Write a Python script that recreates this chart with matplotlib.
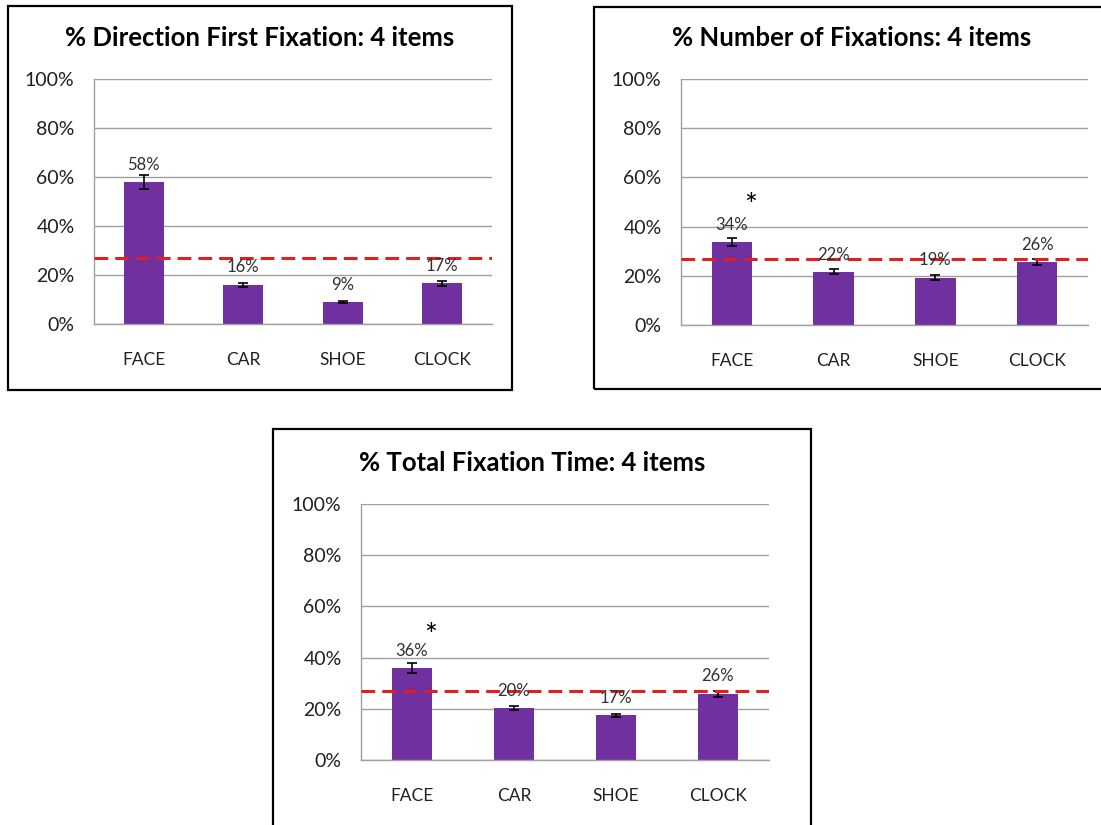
import matplotlib
matplotlib.use("Agg")
import matplotlib.pyplot as plt
from matplotlib.patches import Rectangle

plt.rcParams['font.family'] = ['Lato', 'DejaVu Sans']

categories = ["FACE", "CAR", "SHOE", "CLOCK"]

first_fix = [58.0, 16.0, 8.8, 16.6]
first_fix_err = [3.0, 0.9, 0.4, 1.0]

num_fix = [33.7, 21.6, 19.3, 25.5]
num_fix_err = [1.6, 1.0, 1.0, 1.2]

total_time = [35.8, 20.2, 17.4, 25.9]
total_time_err = [2.0, 0.8, 0.7, 1.2]

chance_level = 27
star_level = 51

W, H = 1101, 825
fig = plt.figure(figsize=(W / 100, H / 100), dpi=100)

BAR = '#7030a0'
GRID = '#a0a0a0'


def px_axes(x0, x1, ytop, ybot):
    # axes placed in pixel coords (origin top-left)
    return fig.add_axes([x0 / W, 1 - ybot / H, (x1 - x0) / W, (ybot - ytop) / H])


def frame(x0, y0, x1, y1):
    fig.patches.append(Rectangle((x0 / W, 1 - y1 / H), (x1 - x0) / W, (y1 - y0) / H,
                                 transform=fig.transFigure, fill=False,
                                 edgecolor='black', lw=1.6, zorder=0))


def panel(box, area, title, vals, errs, star=False):
    frame(*box)
    ax = px_axes(*area)
    x = range(len(categories))
    ax.bar(x, vals, width=0.4, color=BAR, zorder=2)
    ax.errorbar(x, vals, yerr=errs, fmt='none', ecolor='black', elinewidth=1.2,
                capsize=3.5, capthick=1.2, zorder=3)
    for i, v in enumerate(vals):
        ax.annotate(f"{v:.0f}%", (i, v), xytext=(0, 12.5), textcoords='offset points',
                    ha='center', va='center', fontsize=12, color='#303030', zorder=4)
    ax.axhline(chance_level, color='#e02020', lw=2.2, dashes=(4.5, 2.3), zorder=3)
    if star:
        ax.annotate('*', (0.18, star_level), xytext=(0, -5), textcoords='offset points',
                    ha='center', va='center', fontsize=22, color='black')
    ax.set_xlim(-0.5, 3.5)
    ax.set_ylim(0, 100)
    ax.set_yticks(range(0, 101, 20))
    ax.set_yticklabels([f"{t}%" for t in range(0, 101, 20)])
    ax.set_xticks(list(x))
    ax.set_xticklabels(categories)
    ax.tick_params(axis='both', length=0, colors='#202020')
    ax.tick_params(axis='y', pad=14, labelsize=14)
    ax.tick_params(axis='x', pad=20, labelsize=12.5)
    ax.grid(axis='y', color=GRID, lw=1, zorder=0)
    ax.set_axisbelow(True)
    for s in ('top', 'right'):
        ax.spines[s].set_visible(False)
    for s in ('left', 'bottom'):
        ax.spines[s].set_color(GRID)
        ax.spines[s].set_linewidth(1)
    # title sits a little left of the plot centre
    fig.text(((area[0] + area[1]) / 2 - 33) / W, 1 - (area[2] - 41) / H, title,
             ha='center', va='center', fontsize=18.5, fontweight='bold')
    return ax


panel((8, 6, 512, 390), (94, 492, 79, 324), "% Direction First Fixation: 4 items",
      first_fix, first_fix_err)
panel((594, 7, 1110, 389), (681, 1088, 79, 325), "% Number of Fixations: 4 items",
      num_fix, num_fix_err, star=True)
panel((273, 429, 811, 840), (361, 769, 504, 760), "% Total Fixation Time: 4 items",
      total_time, total_time_err, star=True)

fig.savefig("out.png", dpi=100)
